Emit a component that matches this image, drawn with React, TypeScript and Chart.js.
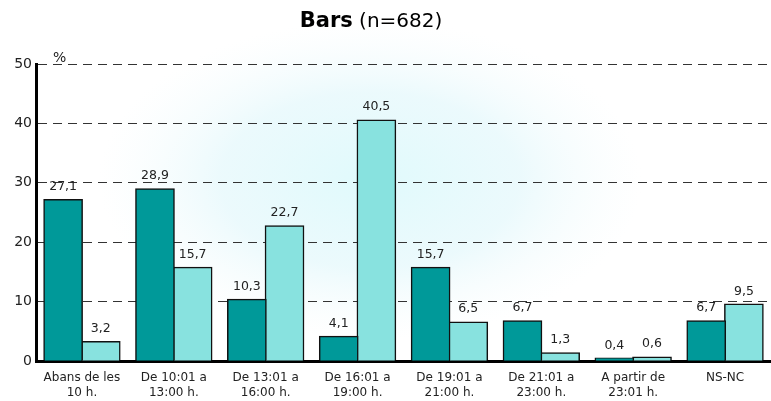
import React, { useEffect, useRef } from "react";
import { Chart, registerables } from "chart.js";

Chart.register(...registerables);

const categories: string[][] = [
  ["Abans de les", "10 h."],
  ["De 10:01 a", "13:00 h."],
  ["De 13:01 a", "16:00 h."],
  ["De 16:01 a", "19:00 h."],
  ["De 19:01 a", "21:00 h."],
  ["De 21:01 a", "23:00 h."],
  ["A partir de", "23:01 h."],
  ["NS-NC"],
];
const seriesA: number[] = [27.1, 28.9, 10.3, 4.1, 15.7, 6.7, 0.4, 6.7];
const seriesB: number[] = [3.2, 15.7, 22.7, 40.5, 6.5, 1.3, 0.6, 9.5];
const yTicks: number[] = [0, 10, 20, 30, 40, 50];
const titleBold = "Bars";
const titleRest = " (n=682)";
const unitLabel = "%";

const FONT = "'DejaVu Sans', Verdana, sans-serif";

const bgPlugin = {
  id: "bgPlugin",
  beforeDraw(chart: any) {
    const ctx = chart.ctx;
    ctx.save();
    ctx.fillStyle = "#ffffff";
    ctx.fillRect(0, 0, chart.width, chart.height);
    ctx.translate(370, 180);
    ctx.scale(1.7, 1);
    const g = ctx.createRadialGradient(0, 0, 0, 0, 0, 160);
    g.addColorStop(0, "rgba(224,250,252,1)");
    g.addColorStop(0.55, "rgba(232,249,252,0.85)");
    g.addColorStop(1, "rgba(245,252,253,0)");
    ctx.fillStyle = g;
    ctx.fillRect(-160, -160, 320, 320);
    ctx.restore();
  },
};

const textPlugin = {
  id: "textPlugin",
  afterDraw(chart: any) {
    const ctx = chart.ctx;
    ctx.save();
    ctx.textBaseline = "alphabetic";
    ctx.fillStyle = "#000";
    ctx.font = `bold 21px ${FONT}`;
    const w1 = ctx.measureText(titleBold).width;
    ctx.font = `20px ${FONT}`;
    const w2 = ctx.measureText(titleRest).width;
    const start = 371 - (w1 + w2) / 2;
    ctx.font = `bold 21px ${FONT}`;
    ctx.fillText(titleBold, start, 27);
    ctx.font = `20px ${FONT}`;
    ctx.fillText(titleRest, start + w1, 27);
    ctx.font = `14px ${FONT}`;
    ctx.fillStyle = "#222";
    ctx.textAlign = "left";
    ctx.fillText(unitLabel, 53, 62);
    ctx.font = `12.5px ${FONT}`;
    ctx.fillStyle = "#222";
    ctx.textAlign = "center";
    ctx.textBaseline = "bottom";
    chart.data.datasets.forEach((ds: any, di: number) => {
      const meta = chart.getDatasetMeta(di);
      meta.data.forEach((bar: any, i: number) => {
        const v = ds.data[i];
        const txt = v.toFixed(1).replace(".", ",");
        ctx.fillText(txt, bar.x, bar.y - 7);
      });
    });
    ctx.restore();
  },
};

export default function App() {
  const ref = useRef<HTMLCanvasElement | null>(null);
  useEffect(() => {
    if (!ref.current) return;
    const chart = new Chart(ref.current, {
      type: "bar",
      data: {
        labels: categories,
        datasets: [
          {
            label: "A",
            data: seriesA,
            backgroundColor: "#009999",
            borderColor: "#111",
            borderWidth: 1.5,
            inflateAmount: 1,
            barPercentage: 1,
            categoryPercentage: 0.82,
          },
          {
            label: "B",
            data: seriesB,
            backgroundColor: "#88e2df",
            borderColor: "#111",
            borderWidth: 1.5,
            inflateAmount: 1,
            barPercentage: 1,
            categoryPercentage: 0.82,
          },
        ],
      },
      options: {
        animation: false,
        responsive: false,
        maintainAspectRatio: false,
        layout: { padding: { top: 64, right: 0, left: 0, bottom: 0 } },
        plugins: {
          legend: { display: false },
          title: { display: false },
          tooltip: { enabled: false },
        },
        scales: {
          x: {
            grid: { display: false },
            border: { display: true, color: "#000", width: 3 },
            ticks: {
              color: "#222",
              font: { family: FONT, size: 12 },
              maxRotation: 0,
              autoSkip: false,
              padding: 2,
            },
            afterFit(scale: any) {
              scale.height = 40;
            },
          },
          y: {
            min: 0,
            max: 50,
            afterBuildTicks(scale: any) {
              scale.ticks = yTicks.map((v) => ({ value: v }));
            },
            grid: {
              color: (c: any) => (c.tick && c.tick.value === 0 ? "rgba(0,0,0,0)" : "#333"),
              lineWidth: 1,
              drawTicks: false,
            },
            border: { display: true, color: "#000", width: 3, dash: [9, 6] },
            ticks: {
              color: "#222",
              font: { family: FONT, size: 14 },
              padding: 4,
            },
            afterFit(scale: any) {
              scale.width = 36;
            },
          },
        },
      },
      plugins: [bgPlugin, textPlugin],
    });
    return () => chart.destroy();
  }, []);
  return (
    <div style={{ position: "fixed", left: 0, top: 0, width: 771, height: 401 }}>
      <canvas ref={ref} width={771} height={401} style={{ width: 771, height: 401 }} />
    </div>
  );
}
